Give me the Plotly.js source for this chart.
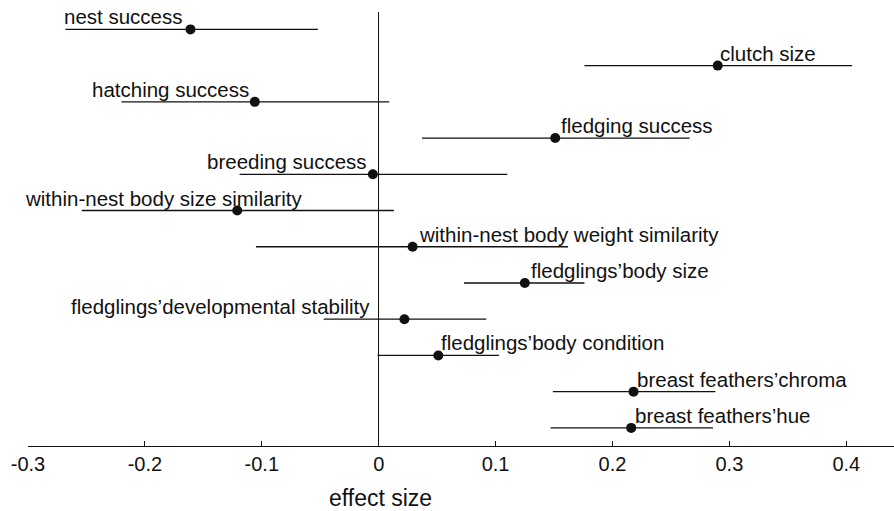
<!DOCTYPE html>
<html>
<head>
<meta charset="utf-8">
<script src="https://cdn.plot.ly/plotly-3.0.1.min.js"></script>
<style>html,body{margin:0;padding:0;background:#fff;}#chart{width:894px;height:511px;}</style>
</head>
<body>
<div id="chart"></div>
<script>
// Data
const outcomes = [
  "nest success",
  "clutch size",
  "hatching success",
  "fledging success",
  "breeding success",
  "within-nest body size similarity",
  "within-nest body weight similarity",
  "fledglings\u2019body size",
  "fledglings\u2019developmental stability",
  "fledglings\u2019body condition",
  "breast feathers\u2019chroma",
  "breast feathers\u2019hue"
];
const effect = [-0.161, 0.290, -0.106, 0.151, -0.005, -0.121, 0.029, 0.125, 0.022, 0.051, 0.218, 0.216];
const ciLow  = [-0.268, 0.176, -0.220, 0.037, -0.119, -0.254, -0.105, 0.073, -0.047, -0.001, 0.149, 0.147];
const ciHigh = [-0.052, 0.405, 0.009, 0.266, 0.110, 0.013, 0.162, 0.176, 0.092, 0.103, 0.288, 0.286];
const tickVals = [-0.3, -0.2, -0.1, 0, 0.1, 0.2, 0.3, 0.4];
const tickText = ["-0.3", "-0.2", "-0.1", "0", "0.1", "0.2", "0.3", "0.4"];

// Label placement (style): anchor side and pixel shift from the dot
const labelSide  = ["right","left","right","left","right","right","left","left","right","left","left","left"];
const labelShift = [-5, 0, -4, 4, -4, 67, 4, 4, -32, 1, 1, 2];

const rows = outcomes.map((_, i) => i + 1);
const FONT = "Liberation Sans, Arial, Helvetica, sans-serif";

const trace = {
  type: "scatter",
  mode: "markers",
  x: effect,
  y: rows,
  marker: {color: "#111", size: 10},
  error_x: {
    type: "data",
    symmetric: false,
    array: effect.map((v, i) => ciHigh[i] - v),
    arrayminus: effect.map((v, i) => v - ciLow[i]),
    color: "#111",
    thickness: 1.3,
    width: 0
  },
  hoverinfo: "skip",
  showlegend: false
};

const annotations = outcomes.map((t, i) => ({
  x: effect[i], y: rows[i], xref: "x", yref: "y",
  text: t, showarrow: false,
  xanchor: labelSide[i], yanchor: "bottom",
  xshift: labelShift[i], yshift: -1,
  font: {family: FONT, size: 20.5, color: "#111"}
}));
annotations.push({
  x: 0.4065, y: 0, xref: "paper", yref: "paper",
  text: "effect size", showarrow: false,
  xanchor: "center", yanchor: "top", yshift: -37,
  font: {family: FONT, size: 23, color: "#111"}
});

const layout = {
  width: 894, height: 511,
  margin: {l: 28, r: 0, t: 12, b: 65},
  paper_bgcolor: "#fff", plot_bgcolor: "#fff",
  font: {family: FONT, size: 20, color: "#111"},
  xaxis: {
    range: [-0.3, 0.4408],
    tickvals: tickVals, ticktext: tickText,
    ticks: "inside", ticklen: 5, tickcolor: "#111", tickwidth: 1,
    showline: true, linecolor: "#111", linewidth: 1,
    showgrid: false,
    zeroline: true, zerolinecolor: "#111", zerolinewidth: 1,
    tickfont: {family: FONT, size: 20, color: "#111"}
  },
  yaxis: {
    range: [12.5, 0.52],
    showticklabels: false, showline: false, showgrid: false, zeroline: false, ticks: ""
  },
  annotations: annotations
};

Plotly.newPlot("chart", [trace], layout, {displayModeBar: false, staticPlot: true});
</script>
</body>
</html>
